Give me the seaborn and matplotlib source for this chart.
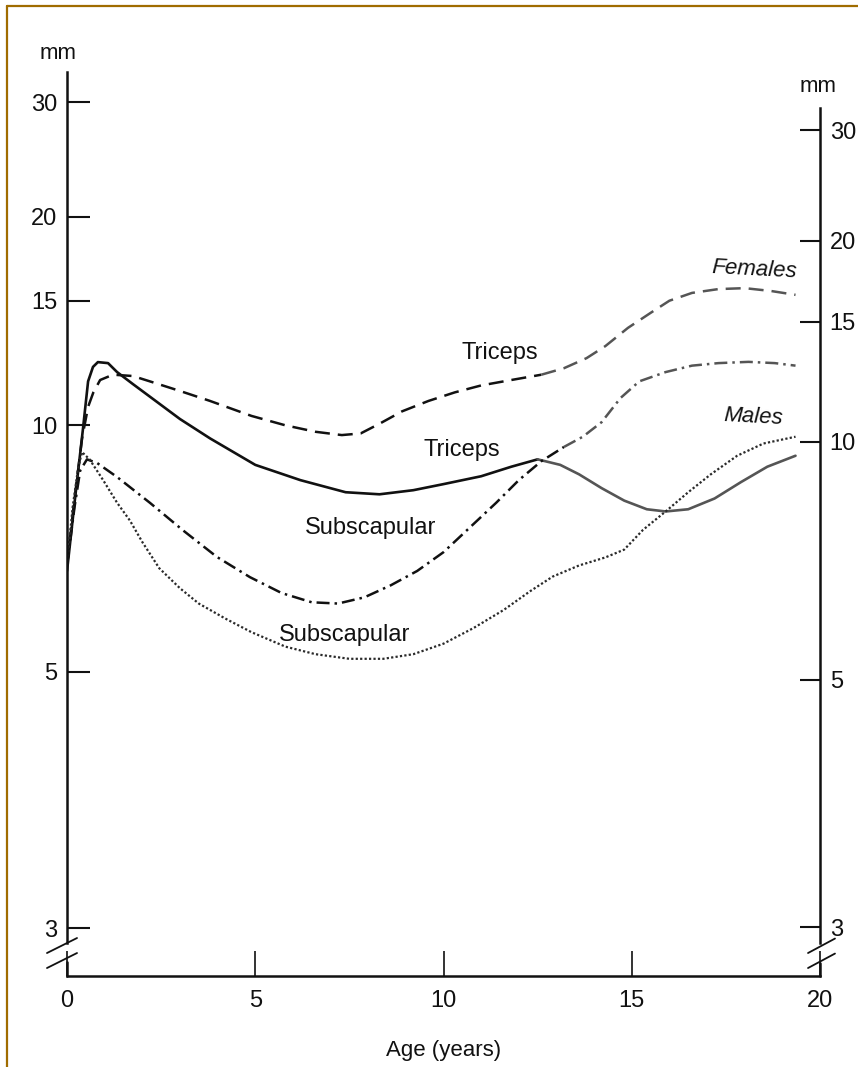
import numpy as np
import pandas as pd
import matplotlib
matplotlib.use("Agg")
import matplotlib.pyplot as plt
from matplotlib.lines import Line2D
from matplotlib.ticker import NullLocator
import seaborn as sns

# Skinfold thickness (mm) by age (years)
fem_tri_age = [0.0, 0.2, 0.4, 0.56, 0.7, 0.88, 1.22, 1.75, 2.2, 3.0, 3.8, 4.9, 5.8, 6.6, 7.3,
               7.8, 8.3, 8.9, 9.6, 10.3, 11.0, 11.8, 12.6, 13.2, 13.8, 14.3, 14.9, 15.5, 16.0,
               16.6, 17.3, 18.0, 18.7, 19.35]
fem_tri_mm = [6.6, 8.0, 9.6, 10.6, 11.1, 11.55, 11.75, 11.7, 11.5, 11.15, 10.8, 10.3, 10.0, 9.8, 9.7,
              9.75, 10.05, 10.45, 10.8, 11.1, 11.35, 11.55, 11.75, 12.0, 12.4, 12.9, 13.7, 14.4, 15.0,
              15.4, 15.6, 15.65, 15.5, 15.3]

male_tri_age = [0.0, 0.2, 0.42, 0.56, 0.69, 0.82, 1.09, 1.33, 1.75, 2.2, 3.0, 3.8, 5.0, 6.2, 7.4,
                8.3, 9.2, 10.0, 11.0, 11.8, 12.5, 13.1, 13.6, 14.2, 14.8, 15.4, 15.9, 16.5,
                17.2, 17.9, 18.6, 19.35]
male_tri_mm = [6.5, 7.9, 9.85, 11.5, 12.05, 12.24, 12.2, 11.85, 11.4, 10.95, 10.2, 9.6, 8.85, 8.45, 8.15,
               8.1, 8.2, 8.35, 8.55, 8.8, 9.0, 8.85, 8.6, 8.25, 7.95, 7.75, 7.7, 7.75,
               8.0, 8.4, 8.8, 9.1]

fem_sub_age = [0.0, 0.2, 0.35, 0.53, 0.8, 1.33, 2.2, 3.08, 3.98, 4.86, 5.7, 6.5, 7.2, 7.9,
               8.6, 9.3, 10.0, 10.7, 11.4, 12.0, 12.6, 13.2, 13.7, 14.2, 14.7, 15.2, 15.9,
               16.6, 17.3, 18.1, 18.8, 19.35]
fem_sub_mm = [6.6, 7.8, 8.7, 9.0, 8.9, 8.53, 7.9, 7.29, 6.76, 6.39, 6.12, 5.97, 5.95, 6.05,
              6.25, 6.5, 6.85, 7.35, 7.9, 8.45, 8.95, 9.35, 9.65, 10.1, 10.9, 11.5, 11.85,
              12.1, 12.2, 12.25, 12.2, 12.1]

male_sub_age = [0.0, 0.15, 0.3, 0.4, 0.6, 0.96, 1.33, 1.67, 2.0, 2.45, 3.0, 3.5, 4.2, 4.9, 5.8,
                6.6, 7.5, 8.4, 9.2, 10.0, 10.8, 11.6, 12.3, 12.9, 13.6, 14.3, 14.8, 15.3,
                15.9, 16.5, 17.1, 17.8, 18.5, 19.35]
male_sub_mm = [6.6, 7.8, 8.8, 9.2, 9.0, 8.45, 7.9, 7.5, 7.05, 6.55, 6.2, 5.95, 5.72, 5.52, 5.32,
               5.22, 5.16, 5.16, 5.22, 5.36, 5.58, 5.85, 6.15, 6.4, 6.6, 6.75, 6.9, 7.3,
               7.7, 8.15, 8.6, 9.1, 9.45, 9.65]

y_ticks = [3, 5, 10, 15, 20, 30]
x_ticks = [0, 5, 10, 15, 20]

curves = {
    ("Triceps", "Females"): (fem_tri_age, fem_tri_mm),
    ("Triceps", "Males"): (male_tri_age, male_tri_mm),
    ("Subscapular", "Females"): (fem_sub_age, fem_sub_mm),
    ("Subscapular", "Males"): (male_sub_age, male_sub_mm),
}
dfs = []
for (site, sex), (age, mm) in curves.items():
    d = pd.DataFrame({"age": age, "mm": mm})
    d["site"] = site
    d["sex"] = sex
    dfs.append(d)
df = pd.concat(dfs, ignore_index=True)

# line style, width, age where the print turns grey
styles = {
    ("Triceps", "Females"): ((0, (6, 3.2)), 1.8, 12.6),
    ("Triceps", "Males"): ("-", 1.9, 12.5),
    ("Subscapular", "Females"): ((0, (5.2, 2, 1, 2)), 1.8, 13.2),
    ("Subscapular", "Males"): ((0, (1, 1)), 1.6, None),
}

sns.set_theme(style="white")
plt.rcParams["font.family"] = ["Liberation Sans", "DejaVu Sans"]
plt.rcParams["text.color"] = "#111111"
plt.rcParams["axes.labelcolor"] = "#111111"


def fwd(y):
    return np.log10(np.clip(np.asarray(y, dtype=float) - 1.8, 1e-6, None))


def inv(v):
    return 10 ** np.asarray(v, dtype=float) + 1.8


fig = plt.figure(figsize=(8.58, 10.67), dpi=100)
ax = fig.add_axes([0.0781, 0.0853, 0.8776, 0.8472])

for key, (ls, lw, split) in styles.items():
    d = df[(df["site"] == key[0]) & (df["sex"] == key[1])]
    if split is None:
        sns.lineplot(data=d, x="age", y="mm", ax=ax, color="#2a2a2a", linestyle=ls,
                     lw=lw, errorbar=None, sort=False)
    else:
        sns.lineplot(data=d[d["age"] <= split], x="age", y="mm", ax=ax, color="#111111",
                     linestyle=ls, lw=lw, errorbar=None, sort=False)
        sns.lineplot(data=d[d["age"] >= split], x="age", y="mm", ax=ax, color="#555555",
                     linestyle=ls, lw=lw, errorbar=None, sort=False)

ax.set_yscale("function", functions=(fwd, inv))
ax.set_xlim(0, 20)
ax.set_ylim(2.8, 33.43)
ax.set_xticks(x_ticks, labels=[str(t) for t in x_ticks])
ax.set_yticks(y_ticks, labels=[str(t) for t in y_ticks])
ax.yaxis.set_minor_locator(NullLocator())
ax.xaxis.set_minor_locator(NullLocator())
ax.tick_params(axis="y", direction="in", length=16.5, width=1.5, labelsize=17, pad=7,
               colors="#111111", left=True)
ax.tick_params(axis="x", direction="in", length=18, width=1.2, labelsize=17, pad=10,
               colors="#111111", bottom=True)
ax.set_xlabel("Age (years)", fontsize=16, labelpad=20)
ax.set_ylabel("")
ax.grid(False)

for s in ["top", "right"]:
    ax.spines[s].set_visible(False)
for s in ["left", "bottom"]:
    ax.spines[s].set_linewidth(1.8)
    ax.spines[s].set_color("#111111")

# right-hand axis, printed on a slightly different scale
ax2 = ax.twinx()
ax2.set_yscale("function", functions=(fwd, inv))
ax2.set_ylim(2.79, 37.28)
ax2.set_yticks(y_ticks, labels=[str(t) for t in y_ticks])
ax2.yaxis.set_minor_locator(NullLocator())
ax2.tick_params(axis="y", direction="in", length=14.5, width=1.5, labelsize=17, pad=7,
                colors="#111111", right=True)
ax2.grid(False)
for s in ["top", "left", "bottom"]:
    ax2.spines[s].set_visible(False)
ax2.spines["right"].set_linewidth(1.8)
ax2.spines["right"].set_color("#111111")

# spine bounds with the break near the origin
to_data = lambda a, yfrac: a.transData.inverted().transform(a.transAxes.transform((0, yfrac)))[1]
ax.spines["left"].set_bounds(to_data(ax, 0.0365), 33.43)
ax2.spines["right"].set_bounds(to_data(ax2, 0.0365), 32.56)

kw = dict(transform=ax.transAxes, clip_on=False, color="#111111")
ax.plot([0, 0], [0, 0.0155], lw=1.8, **kw)
ax.plot([1, 1], [0, 0.0145], lw=1.8, **kw)
for y0 in (0.0088, 0.0254):
    ax.plot([-0.0266, 0.0133], [y0, y0 + 0.0166], lw=1.3, **kw)
    ax.plot([0.9841, 1.0199], [y0, y0 + 0.0160], lw=1.3, **kw)

# curve labels
ax.text(11.5, 12.6, "Triceps", fontsize=17, ha="center", va="center")
ax.text(10.49, 9.26, "Triceps", fontsize=17, ha="center", va="center")
ax.text(8.05, 7.33, "Subscapular", fontsize=17, ha="center", va="center")
ax.text(7.38, 5.48, "Subscapular", fontsize=17, ha="center", va="center")
ax.text(18.25, 16.64, "Females", fontsize=16, style="italic", ha="center", va="center",
        rotation=-3)
ax.text(18.22, 10.26, "Males", fontsize=16, style="italic", ha="center", va="center",
        rotation=-3)

fig.text(0.0676, 0.9503, "mm", fontsize=16, ha="center", va="center")
fig.text(0.9534, 0.9185, "mm", fontsize=16, ha="center", va="center")

# page border from the scan
border = "#a06c00"
fig.add_artist(Line2D([0.0082, 1.0], [0.9944, 0.9944], transform=fig.transFigure,
                      color=border, lw=1.6))
fig.add_artist(Line2D([0.0082, 0.0082], [0.0, 0.9944], transform=fig.transFigure,
                      color=border, lw=1.6))

fig.savefig("out.png", dpi=100, facecolor="white")
